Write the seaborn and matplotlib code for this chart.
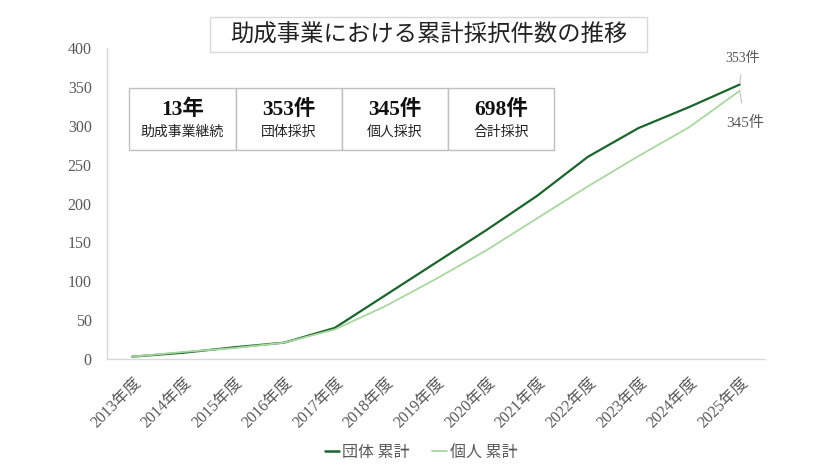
import numpy as np
import pandas as pd
import matplotlib
matplotlib.use('Agg')
import matplotlib.pyplot as plt
import matplotlib.transforms as mtransforms
from matplotlib.patches import Rectangle
from matplotlib.lines import Line2D
import seaborn as sns

# data
years = ['2013年度', '2014年度', '2015年度', '2016年度', '2017年度', '2018年度', '2019年度',
         '2020年度', '2021年度', '2022年度', '2023年度', '2024年度', '2025年度']
group_total = [3, 8, 15, 21, 40, 82, 124, 166, 210, 260, 297, 324, 353]
person_total = [3, 9, 14, 21, 38, 68, 103, 140, 181, 222, 261, 298, 345]
series_names = ['団体 累計', '個人 累計']
stat_values = ['13年', '353件', '345件', '698件']
stat_labels = ['助成事業継続', '団体採択', '個人採択', '合計採択']
y_ticks = [0, 50, 100, 150, 200, 250, 300, 350, 400]

dark = '#1b642b'
light = '#a8d8a0'
gray = '#595959'
W, H = 840, 473

sns.set_theme(style='white')
plt.rcParams['font.family'] = ['Noto Sans CJK JP', 'DejaVu Sans']
serif = ['Liberation Serif', 'Noto Sans CJK JP']
sans = ['Noto Sans CJK JP', 'DejaVu Sans']

df = pd.DataFrame({
    'year': years * 2,
    'count': group_total + person_total,
    'series': [series_names[0]] * len(years) + [series_names[1]] * len(years),
})
df['x'] = list(range(len(years))) * 2

fig = plt.figure(figsize=(W / 100, H / 100), dpi=100)
ax = fig.add_axes([107 / W, 1 - 359 / H, (765 - 107) / W, (359 - 48) / H])

sns.lineplot(data=df, x='x', y='count', hue='series', palette=[dark, light],
             ax=ax, legend=False, linewidth=1.6, sort=False)
for ln, w in zip(ax.lines, [1.6, 1.3]):
    ln.set_linewidth(w)

ax.set_xlim(-0.5, len(years) - 0.5)
ax.set_ylim(0, 400)
ax.set_yticks(y_ticks)
ax.set_yticklabels([str(v) for v in y_ticks], family=serif, fontsize=11.5, color=gray)
ax.set_xticks(range(len(years)))
# shift rotated labels a few px right, like the original
offset = mtransforms.ScaledTranslation(4 / 100, 0, fig.dpi_scale_trans)
ax.set_xticklabels(years, family=serif, fontsize=11.5, color=gray,
                   rotation=45, ha='right', va='top', rotation_mode='anchor')
for lab in ax.get_xticklabels():
    lab.set_transform(lab.get_transform() + offset)
ax.tick_params(axis='y', length=0, pad=11)
ax.tick_params(axis='x', length=0, pad=11)
ax.set_xlabel('')
ax.set_ylabel('')
for s in ['top', 'right']:
    ax.spines[s].set_visible(False)
for s in ['left', 'bottom']:
    ax.spines[s].set_color('#d9d9d9')
    ax.spines[s].set_linewidth(1.0)

# end labels
last = len(years) - 1
ax.annotate(f'{group_total[-1]}件', xy=(last, group_total[-1]), xytext=(2, 19),
            textcoords='offset points', ha='center', va='center', fontsize=10,
            color=gray, family=serif,
            arrowprops=dict(arrowstyle='-', color='#bfbfbf', lw=0.8, shrinkA=5, shrinkB=1))
ax.annotate(f'{person_total[-1]}件', xy=(last, person_total[-1]), xytext=(4, -23),
            textcoords='offset points', ha='center', va='center', fontsize=11,
            color=gray, family=serif,
            arrowprops=dict(arrowstyle='-', color='#bfbfbf', lw=0.8, shrinkA=7, shrinkB=1))

# legend
handles = [Line2D([0], [0], color=dark, lw=1.8), Line2D([0], [0], color=light, lw=1.3)]
fig.legend(handles, series_names, loc='center', bbox_to_anchor=(421 / W, 1 - 452 / H),
           ncol=2, frameon=False, fontsize=11.5, handlelength=0.9, handletextpad=0.2,
           columnspacing=1.4, labelcolor=gray)

# title box
def fx(x):
    return x / W

def fy(y):
    return 1 - y / H

fig.add_artist(Rectangle((fx(210), fy(52)), (647 - 210) / W, 35 / H, transform=fig.transFigure,
                         facecolor='white', edgecolor='#d9d9d9', lw=1.0))
fig.text(fx(429), fy(35), '助成事業における累計採択件数の推移', ha='center', va='center',
         fontsize=16.8, color='#222222', family=sans)

# stats table
edges = [129, 236, 342, 448, 554]
for i in range(len(stat_values)):
    x0, x1 = edges[i], edges[i + 1]
    fig.add_artist(Rectangle((fx(x0), fy(150)), (x1 - x0) / W, 62 / H, transform=fig.transFigure,
                             facecolor='white', edgecolor='#bfbfbf', lw=1.0))
    cx = (x0 + x1) / 2
    fig.text(fx(cx), fy(110), stat_values[i], ha='center', va='center', fontsize=15.5,
             fontweight='bold', color='#111111', family=serif)
    fig.text(fx(cx), fy(132), stat_labels[i], ha='center', va='center', fontsize=10,
             color='#222222', family=sans)

fig.savefig('out.png', dpi=100, facecolor='white')
